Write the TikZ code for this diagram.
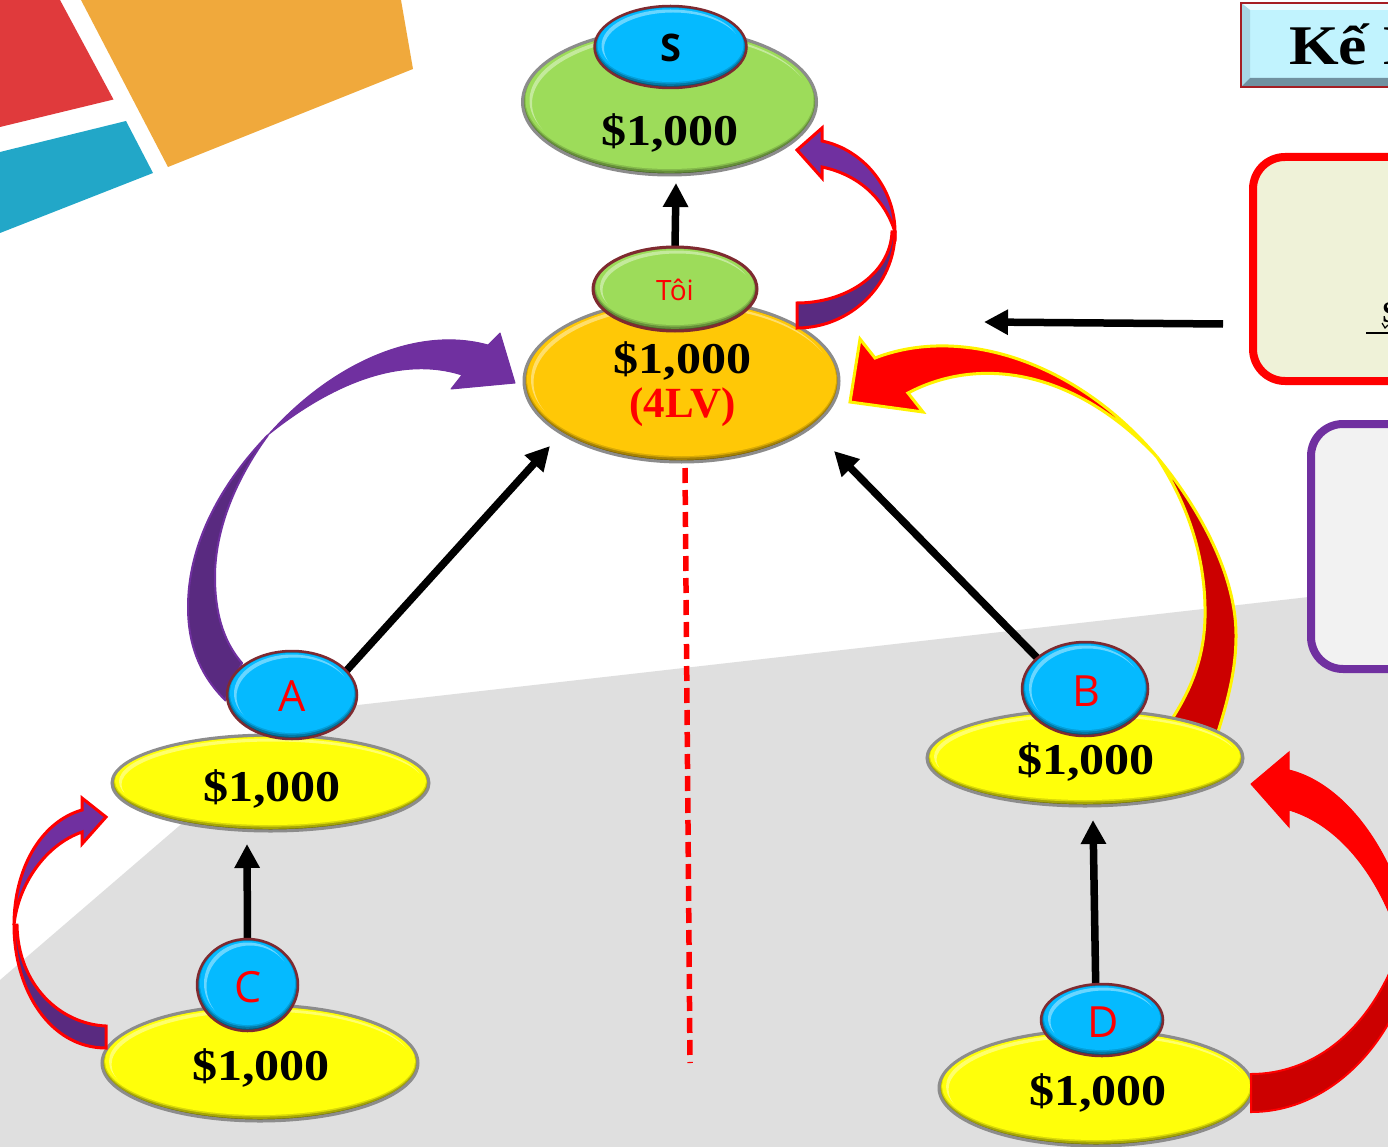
\documentclass[tikz,border=0pt]{standalone}
\usepackage{fontspec}
\usetikzlibrary{shapes.geometric,arrows.meta}
\setmainfont{Liberation Serif}
\newfontfamily\moneyfont{Liberation Serif}[FakeStretch=1.14]
\newfontfamily\uifont{Open Sans}
\pgfdeclarelayer{under}
\pgfsetlayers{under,main}
\definecolor{ccyan}{HTML}{05BAFF}
\definecolor{cgreen}{HTML}{9DDC5A}
\definecolor{corange}{HTML}{FFC806}
\definecolor{cyellow}{HTML}{FFFF0A}
\definecolor{cpurple}{HTML}{7030A0}
\definecolor{cdpurple}{HTML}{592A80}
\definecolor{cdred}{HTML}{CC0000}
\definecolor{crim}{HTML}{7F2A30}
\definecolor{cgrey}{HTML}{8C8C8C}
\definecolor{cground}{HTML}{DFDFDF}
\tikzset{
  bevel/.style n args={5}{ellipse, inner sep=0pt, outer sep=0pt,
    minimum width={2*#1*1pt}, minimum height={2*#2*1pt},
    fill=#3!45!black, draw=#4, line width=#5,
    path picture={
      \begin{scope}[shift={(path picture bounding box.center)}]
        \fill[#3!65!black] (0,-0.7) ellipse [x radius={(#1-1)*1pt}, y radius={(#2-1.5)*1pt}];
        \fill[#3!85!black] (0,-1.4) ellipse [x radius={(#1-2)*1pt}, y radius={(#2-3)*1pt}];
        \fill[#3] (0,-2) ellipse [x radius={(#1-3)*1pt}, y radius={(#2-4)*1pt}];
        \begin{scope}
          \clip (0,-1.5) ellipse [x radius={(#1-7)*1pt}, y radius={(#2-5)*1pt}];
          \fill[#3!60!white, even odd rule] (-#1,-#2) rectangle (#1,#2)
            (2.5,1.5) ellipse [x radius={(#1-7)*1pt}, y radius={(#2-5)*1pt}];
        \end{scope}
      \end{scope}
    }},
  blue/.style n args={2}{bevel={#1}{#2}{ccyan}{crim}{2.5pt}},
  money/.style={anchor=base, inner sep=0pt, font=\moneyfont\bfseries\fontsize{44}{48}\selectfont},
  level/.style={anchor=base, inner sep=0pt, text=red, font=\bfseries\fontsize{43}{46}\selectfont},
  letter/.style={inner sep=0pt, text=red, font=\uifont\fontsize{43}{46}\selectfont},
  blk/.style={draw=black, line width=7.5pt, -{Triangle[length=24pt,width=24pt]}},
  infobox/.style={rectangle, rounded corners=32pt, line width=8pt, inner sep=0pt, outer sep=0pt},
}
\begin{document}
\begin{tikzpicture}[x=1pt,y=-1pt]
\useasboundingbox (0,0) rectangle (1388,1147);
% free ends of the connectors
\coordinate (tipS) at (676,183);
\coordinate (tipL) at (550,446);
\coordinate (tipR) at (834,451);
\coordinate (tipA) at (247,844);
\coordinate (tipB) at (1093,820);
\coordinate (tipM) at (984,322);
\coordinate (tailM) at (1223,324);
\coordinate (dashA) at (685,468);
\coordinate (dashB) at (690,1063);

% nodes
\node[bevel={147}{73}{cgreen}{cgrey}{3pt}] (nSm) at (669.5,102) {};
\node[blue={76}{41}] (nS) at (670.5,47) {};
\node[bevel={157.5}{81}{corange}{cgrey}{3pt}] (nTm) at (681.5,381) {};
\node[bevel={82}{42}{cgreen}{crim}{3pt}] (nT) at (675,289) {};
\node[bevel={158.5}{48}{cyellow}{cgrey}{3pt}] (nAm) at (270.5,783) {};
\node[blue={65}{44}] (nA) at (292,695) {};
\node[bevel={158}{58}{cyellow}{cgrey}{3pt}] (nCm) at (260,1063) {};
\node[blue={50.5}{46}] (nC) at (247.5,985) {};
\node[bevel={158}{48}{cyellow}{cgrey}{3pt}] (nBm) at (1085,758) {};
\node[blue={63}{47}] (nB) at (1085,689) {};
\node[bevel={157}{58}{cyellow}{cgrey}{3pt}] (nDm) at (1096,1088) {};
\node[blue={61}{36}] (nD) at (1102,1020) {};

\node[inner sep=0pt, font=\uifont\bfseries\fontsize{38}{40}\selectfont] (lS) at (670.5,48) {S};
\node[inner sep=0pt, text=red, font=\uifont\fontsize{28}{30}\selectfont] (lT) at (675,290) {Tôi};
\node[letter] (lA) at (292,696) {A};
\node[letter] (lC) at (248,987) {C};
\node[letter] (lB) at (1086,691) {B};
\node[letter] (lD) at (1103,1022) {D};

\node[money] (tS) at (670,146) {\$1,000};
\node[money] (tT) at (682.5,373) {\$1,000};
\node[level] (tLv) at (682.5,417) {(4LV)};
\node[money] (tA) at (272,801) {\$1,000};
\node[money] (tC) at (261,1080) {\$1,000};
\node[money] (tB) at (1086,774) {\$1,000};
\node[money] (tD) at (1098,1105) {\$1,000};

% everything below the nodes
\begin{pgfonlayer}{under}
\begin{scope}
\clip (0,0) rectangle (1388,1147);
\fill[white] (0,0) rectangle (1388,1147);
\fill[cground] (0,980) -- (314,710) -- (1388,588) -- (1388,1147) -- (0,1147) -- cycle;
\fill[color={rgb,255:red,224;green,58;blue,60}] (0,0) -- (60,0) -- (113.5,99.5) -- (0,127) -- cycle;
\fill[color={rgb,255:red,34;green,167;blue,200}] (0,152) -- (126,121) -- (153,173) -- (0,233) -- cycle;
\fill[color={rgb,255:red,240;green,169;blue,60}] (81,0) -- (401,0) -- (413,69) -- (168,167) -- cycle;

% connectors
\draw[blk] (nT.north) -- (tipS);
\draw[blk] (nA.24) -- (tipL);
\draw[blk] (nB.147) -- (tipR);
\draw[blk] (nC.north) -- (tipA);
\draw[blk] (nD.100) -- (tipB);
\draw[blk] (tailM) -- (tipM);
\draw[red, line width=5.5pt, dash pattern=on 15pt off 7pt] (dashA) -- (dashB);

% purple block arrow A to me
\fill[cpurple, draw=cpurple, line width=1pt, line join=round]
  (462,375) -- (451,389) -- (515,383) -- (500,333) -- (488,345)
  .. controls (415,325) and (330,365) .. (268,435)
  .. controls (330,385) and (400,355) .. (462,375) -- cycle;
\fill[cdpurple, draw=cpurple, line width=2pt]
  (268,435) .. controls (215,490) and (188,550) .. (188,607)
  .. controls (188,645) and (200,675) .. (225,700) -- (242,663)
  .. controls (222,640) and (215,610) .. (215,577)
  .. controls (215,530) and (235,480) .. (268,435) -- cycle;

% red block arrow B to me
\fill[red, draw=yellow, line width=3pt, line join=miter]
  (908,393) -- (923,412) -- (850,402) -- (860,339) -- (875,358)
  .. controls (960,325) and (1075,360) .. (1157,457)
  .. controls (1075,370) and (980,355) .. (908,393) -- cycle;
\fill[cdred, draw=yellow, line width=3pt]
  (1157,457) .. controls (1205,515) and (1236,580) .. (1236,635)
  .. controls (1236,670) and (1228,700) .. (1217,735) -- (1168,725)
  .. controls (1195,685) and (1206,650) .. (1205,607)
  .. controls (1204,550) and (1185,500) .. (1157,457) -- cycle;
\end{scope}
\end{pgfonlayer}

% arrows on top of the nodes
\begin{scope}
\clip (0,0) rectangle (1388,1147);
% me to S
\fill[cpurple, draw=red, line width=3pt]
  (822,167) -- (822,178) -- (797,150) -- (822,128) -- (822,141)
  .. controls (865,150) and (895,190) .. (895,232)
  .. controls (885,200) and (860,175) .. (822,167) -- cycle;
\fill[cdpurple, draw=red, line width=3pt]
  (895,232) .. controls (895,285) and (850,328) .. (797,328) -- (797,303)
  .. controls (845,303) and (890,275) .. (892,232) -- cycle;
% C to A
\fill[cpurple, draw=red, line width=3pt]
  (82,832) -- (82,844) -- (106,817) -- (82,798) -- (82,810)
  .. controls (40,822) and (14,870) .. (14,925)
  .. controls (18,885) and (45,845) .. (82,832) -- cycle;
\fill[cdpurple, draw=red, line width=3pt]
  (14,925) .. controls (14,990) and (50,1048) .. (106,1048) -- (106,1026)
  .. controls (60,1024) and (18,985) .. (17,925) -- cycle;
% D to B
\fill[red, draw=red, line width=1pt]
  (1289,810) -- (1289,827) -- (1251,784) -- (1289,752) -- (1289,770)
  .. controls (1330,780) and (1370,820) .. (1395,880) -- (1395,930) -- (1392,920)
  .. controls (1368,860) and (1330,822) .. (1289,810) -- cycle;
\fill[cdred, draw=red, line width=2pt]
  (1251,1112) .. controls (1320,1112) and (1375,1060) .. (1400,1000) -- (1395,960)
  .. controls (1365,1035) and (1310,1074) .. (1251,1074) -- cycle;

% title bar
\fill[color={rgb,255:red,193;green,243;blue,254}] (1240,2) rectangle (1400,88);
\fill[color={rgb,255:red,235;green,252;blue,255}] (1240,2) -- (1400,2) -- (1400,10) -- (1250,10) -- cycle;
\fill[color={rgb,255:red,168;green,215;blue,228}] (1240,2) -- (1250,10) -- (1250,78) -- (1240,88) -- cycle;
\fill[color={rgb,255:red,112;green,145;blue,160}] (1240,88) -- (1250,78) -- (1400,78) -- (1400,88) -- cycle;
\draw[color={rgb,255:red,165;green,30;blue,35}, line width=2.5pt] (1241,3) rectangle (1400,87);
\node[anchor=base west, inner sep=0pt, font=\moneyfont\bfseries\fontsize{56}{60}\selectfont] (tKe) at (1289,65) {Kế H};

% side boxes
\node[infobox, draw=red, fill={rgb,255:red,239;green,242;blue,216}, minimum width=294pt, minimum height=224pt] (nRed) at (1400,269) {};
\node[infobox, draw=cpurple, fill={rgb,255:red,242;green,242;blue,242}, minimum width=238pt, minimum height=245pt] (nPur) at (1430,546.5) {};
\node[anchor=base west, inner sep=0pt, font=\bfseries\fontsize{30}{32}\selectfont] (tSl) at (1382,322) {S};
\draw[black, line width=1.5pt] (1366,333) -- (1388,333);
\draw[black, line width=1.2pt] (1382,323) -- (1385,328) -- (1388,325);
\end{scope}
\end{tikzpicture}
\end{document}
